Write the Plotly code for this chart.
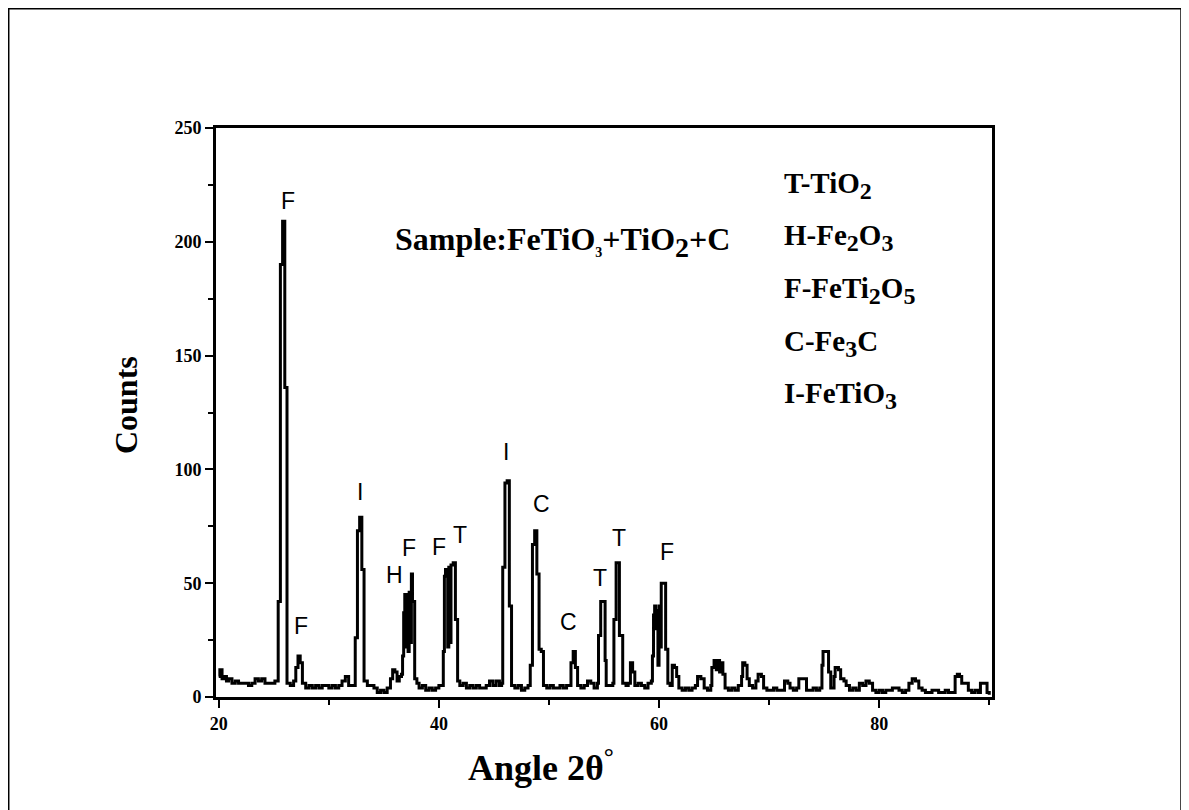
import plotly.graph_objects as go

# ---- data (2-theta in degrees, counts) ----
two_theta = [
    20.0, 20.1, 20.3, 20.5, 20.7, 20.9, 21.2, 21.5, 21.8, 22.1, 22.4, 22.7, 23.0, 23.3, 23.6, 23.9, 24.2, 24.5, 24.8, 25.1,
    25.4, 25.6, 25.8, 26.0, 26.2, 26.5, 26.8, 27.0, 27.2, 27.4, 27.6, 27.9, 28.2, 28.5, 28.8, 29.1, 29.4, 29.7, 30.0, 30.3,
    30.6, 30.9, 31.2, 31.5, 31.8, 32.1, 32.4, 32.6, 32.8, 33.0, 33.2, 33.5, 33.8, 34.1, 34.4, 34.7, 35.0, 35.3, 35.6, 35.8,
    36.0, 36.2, 36.4, 36.6, 36.7, 36.8, 36.9, 37.0, 37.1, 37.2, 37.3, 37.4, 37.5, 37.6, 37.8, 38.0, 38.2, 38.5, 38.8, 39.1,
    39.4, 39.7, 40.0, 40.3, 40.4, 40.5, 40.6, 40.8, 40.9, 41.0, 41.1, 41.3, 41.5, 41.7, 41.9, 42.2, 42.5, 42.8, 43.1, 43.4,
    43.7, 44.0, 44.3, 44.6, 44.9, 45.2, 45.5, 45.7, 45.8, 46.0, 46.2, 46.4, 46.6, 46.9, 47.2, 47.5, 47.8, 48.1, 48.3, 48.5,
    48.7, 48.9, 49.1, 49.3, 49.5, 49.8, 50.1, 50.4, 50.7, 51.0, 51.3, 51.6, 51.9, 52.0, 52.2, 52.4, 52.6, 52.9, 53.2, 53.5,
    53.8, 54.1, 54.4, 54.5, 54.7, 54.9, 55.1, 55.2, 55.5, 55.8, 55.9, 56.1, 56.4, 56.7, 57.0, 57.2, 57.4, 57.6, 57.8, 58.1,
    58.4, 58.7, 59.0, 59.3, 59.4, 59.5, 59.6, 59.7, 59.8, 59.9, 60.0, 60.1, 60.2, 60.4, 60.6, 60.8, 61.0, 61.2, 61.4, 61.6,
    61.8, 62.1, 62.4, 62.7, 63.0, 63.3, 63.5, 63.8, 64.1, 64.4, 64.7, 64.8, 65.0, 65.2, 65.3, 65.5, 65.6, 65.8, 66.0, 66.3,
    66.6, 66.9, 67.2, 67.5, 67.6, 67.8, 68.0, 68.2, 68.5, 68.8, 69.0, 69.3, 69.5, 69.8, 70.1, 70.4, 70.7, 71.0, 71.4, 71.7,
    71.9, 72.2, 72.5, 72.7, 73.1, 73.4, 73.7, 74.0, 74.3, 74.6, 74.8, 74.9, 75.2, 75.4, 75.6, 75.9, 76.0, 76.3, 76.5, 76.8,
    77.0, 77.3, 77.6, 77.9, 78.2, 78.5, 78.8, 79.1, 79.4, 79.7, 80.0, 80.3, 80.6, 80.9, 81.2, 81.5, 81.8, 82.1, 82.4, 82.7,
    83.0, 83.3, 83.6, 83.9, 84.2, 84.5, 84.8, 85.1, 85.4, 85.7, 86.0, 86.3, 86.6, 86.9, 87.1, 87.3, 87.5, 87.8, 88.1, 88.4,
    88.7, 89.0, 89.2, 89.5, 89.8, 90.0,
]
counts = [
    9, 12, 8, 9, 7, 8, 6, 7, 6, 6, 6, 5, 6, 8, 7, 8, 6, 6, 6, 7,
    42, 190, 209, 136, 6, 5, 7, 13, 18, 15, 6, 4, 5, 4, 5, 4, 5, 5, 4, 5,
    4, 5, 7, 9, 5, 5, 26, 73, 79, 56, 7, 5, 5, 4, 2, 3, 2, 4, 8, 12,
    11, 7, 9, 10, 18, 37, 45, 22, 45, 20, 46, 24, 54, 42, 8, 6, 4, 5, 3, 4,
    3, 4, 5, 5, 20, 53, 56, 22, 57, 24, 58, 59, 34, 7, 5, 6, 4, 5, 4, 5,
    4, 4, 5, 7, 5, 7, 5, 6, 57, 94, 95, 40, 5, 4, 5, 3, 4, 5, 14, 67,
    73, 54, 21, 20, 5, 4, 5, 4, 4, 5, 4, 5, 5, 15, 20, 13, 5, 4, 5, 7,
    6, 4, 6, 27, 42, 42, 16, 5, 5, 6, 34, 59, 27, 6, 5, 6, 15, 11, 5, 6,
    5, 4, 6, 7, 18, 36, 40, 30, 38, 14, 40, 22, 50, 50, 21, 6, 5, 14, 13, 9,
    4, 3, 4, 3, 4, 5, 9, 8, 4, 3, 5, 13, 16, 12, 16, 11, 15, 10, 4, 3,
    4, 3, 5, 9, 15, 14, 8, 5, 4, 7, 10, 9, 4, 3, 3, 4, 3, 3, 7, 6,
    4, 3, 4, 8, 8, 3, 3, 4, 3, 4, 14, 20, 20, 11, 4, 9, 13, 12, 8, 7,
    5, 3, 4, 3, 6, 5, 7, 6, 3, 2, 3, 2, 3, 3, 4, 4, 3, 2, 3, 6,
    8, 7, 4, 3, 2, 2, 3, 3, 2, 2, 3, 2, 2, 9, 10, 9, 6, 6, 3, 2,
    3, 2, 6, 6, 2, 1,
]

# peak labels: (angle, height, letter)
peak_x = [26.3, 27.5, 32.85, 35.95, 37.3, 40.05, 41.9, 46.1, 49.3, 51.8, 54.6, 56.4, 60.7]
peak_y = [218, 31, 90, 53.6, 65.4, 65.8, 71.1, 107.6, 85, 33, 52.2, 70, 63.7]
peak_txt = ["F", "F", "I", "H", "F", "F", "T", "I", "C", "C", "T", "T", "F"]

SUB = "<sub><span style='font-size:24px'>{}</span></sub>"
legend_txt = ["T-TiO" + SUB.format("2"),
              "H-Fe" + SUB.format("2") + "O" + SUB.format("3"),
              "F-FeTi" + SUB.format("2") + "O" + SUB.format("5"),
              "C-Fe" + SUB.format("3") + "C",
              "I-FeTiO" + SUB.format("3")]
legend_y = [224.8, 201.9, 178.7, 155.4, 132.6]

x_ticks = [20, 40, 60, 80]
y_ticks = [0, 50, 100, 150, 200, 250]

SERIF = "Liberation Serif"
SANS = "Liberation Sans"

fig = go.Figure()
fig.add_trace(go.Scatter(
    x=two_theta, y=counts, mode="lines",
    line=dict(color="black", width=3, shape="hv"),
    showlegend=False, hoverinfo="skip",
))

ann = []
for px, py, t in zip(peak_x, peak_y, peak_txt):
    ann.append(dict(x=px, y=py, xref="x", yref="y", text=t, showarrow=False,
                    font=dict(family=SANS, size=23, color="black")))

ann.append(dict(x=51.2, y=199.7, xref="x", yref="y",
                text="<b>Sample:FeTiO<sub><span style='font-size:14px'>3</span></sub>+TiO"
                     "<sub><span style='font-size:28px'>2</span></sub>+C</b>",
                showarrow=False, font=dict(family=SERIF, size=32, color="black")))
for t, ly in zip(legend_txt, legend_y):
    ann.append(dict(x=71.15, y=ly, xref="x", yref="y", text="<b>" + t + "</b>", xanchor="left",
                    showarrow=False, font=dict(family=SERIF, size=29, color="black")))

# axis titles
ann.append(dict(x=-0.1418, y=0.513, xref="paper", yref="paper", text="<b>Counts</b>", textangle=-90,
                showarrow=False, font=dict(family=SERIF, size=32, color="black")))
ann.append(dict(x=0.419, y=-0.163, xref="paper", yref="paper", text="<b>Angle 2θ<sup>°</sup></b>",
                showarrow=False, font=dict(family=SERIF, size=36, color="black")))

fig.update_layout(
    width=1181, height=802, autosize=False,
    margin=dict(l=208, r=197, t=120, b=113),
    paper_bgcolor="white", plot_bgcolor="white",
    annotations=ann,
    shapes=[dict(type="rect", xref="paper", yref="paper",
                 x0=-0.2671, x1=1.2436, y0=-0.25, y1=1.2096,
                 line=dict(color="black", width=1.5), layer="below")],
    showlegend=False,
)
fig.update_xaxes(
    range=[19.75, 90.25], tickvals=x_ticks, ticktext=[str(v) for v in x_ticks],
    ticks="outside", ticklen=8, tickwidth=1.5, tickcolor="black",
    showline=True, linewidth=3, linecolor="black", mirror=True,
    showgrid=False, zeroline=False,
    tickfont=dict(family=SERIF, size=18, color="black", weight="bold"),
    minor=dict(tickvals=[30, 50, 70, 90], ticks="outside", ticklen=5, tickwidth=1.5, tickcolor="black"),
)
fig.update_yaxes(
    range=[0, 250], tickvals=y_ticks, ticktext=[str(v) for v in y_ticks],
    ticks="outside", ticklen=8, tickwidth=1.5, tickcolor="black",
    showline=True, linewidth=3, linecolor="black", mirror=True,
    showgrid=False, zeroline=False,
    tickfont=dict(family=SERIF, size=18, color="black", weight="bold"),
    minor=dict(tickvals=[25, 75, 125, 175, 225], ticks="outside", ticklen=5, tickwidth=1.5, tickcolor="black"),
)

fig.write_html("out.html")
